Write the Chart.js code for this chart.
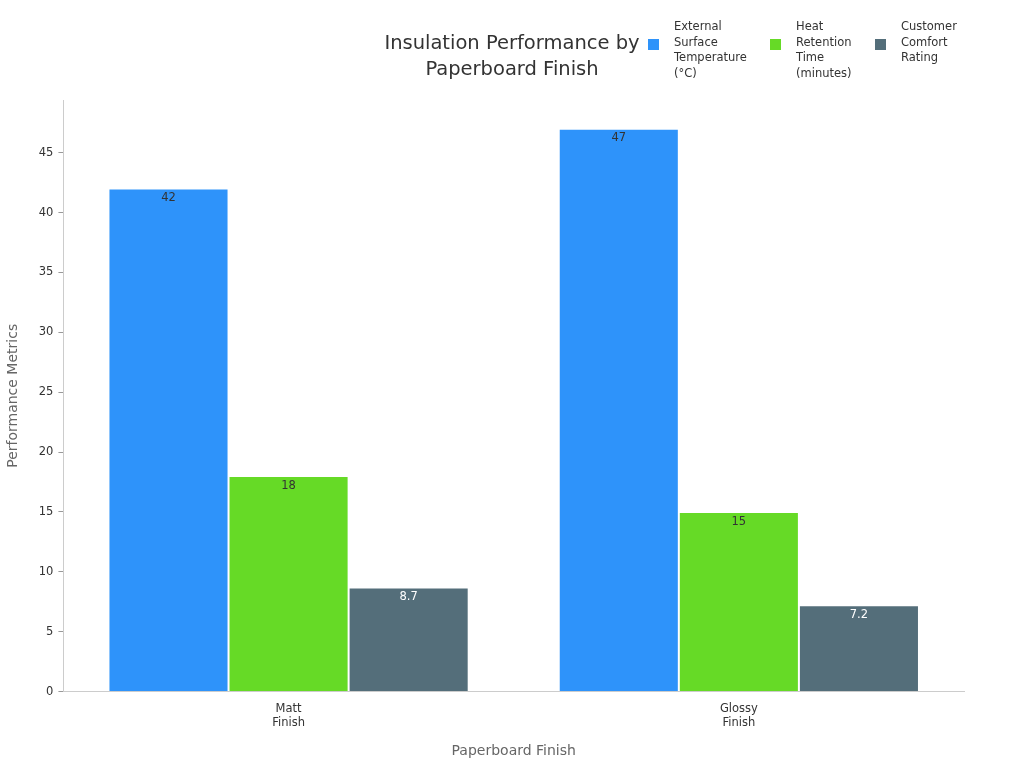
<!DOCTYPE html>
<html><head><meta charset="utf-8">
<script src="https://cdn.jsdelivr.net/npm/chart.js@4"></script>
<style>
body{margin:0;font-family:"DejaVu Sans",sans-serif;background:#fff}
#wrap{position:relative;width:1024px;height:768px}
#title{position:absolute;left:352px;width:320px;top:30px;text-align:center;font-size:19.5px;color:#333;line-height:26px}
#legend{position:absolute;left:648px;top:19px;font-size:11.5px;color:#333;line-height:15.5px}
.li{position:absolute;top:0;display:flex;align-items:flex-start}
.sw{width:11px;height:11px;margin:20px 15px 0 0;flex:none}
</style></head><body>
<div id="wrap">
<canvas id="c" width="1024" height="768"></canvas>
<div id="title">Insulation Performance by<br>Paperboard Finish</div>
<div id="legend"></div>
</div>
<script>
const categories = [['Matt', 'Finish'], ['Glossy', 'Finish']];
const seriesNames = ['External Surface Temperature (°C)', 'Heat Retention Time (minutes)', 'Customer Comfort Rating'];
const legendLines = [['External', 'Surface', 'Temperature', '(°C)'], ['Heat', 'Retention', 'Time', '(minutes)'], ['Customer', 'Comfort', 'Rating']];
const surfaceTemp = [42, 47];
const retentionTime = [18, 15];
const comfortRating = [8.7, 7.2];
const colors = ['#2E93FA', '#66DA26', '#546E7A'];
const labelColors = ['#333', '#333', '#fff'];
const legendX = [0, 122, 227];

const lg = document.getElementById('legend');
legendLines.forEach((l, i) => {
  lg.innerHTML += `<div class="li" style="left:${legendX[i]}px"><span class="sw" style="background:${colors[i]}"></span><span>${l.join('<br>')}</span></div>`;
});

const valueLabels = {
  id: 'valueLabels',
  afterDatasetsDraw(chart) {
    const ctx = chart.ctx;
    ctx.save();
    ctx.font = '11.5px "DejaVu Sans"';
    ctx.textAlign = 'center';
    ctx.textBaseline = 'top';
    chart.data.datasets.forEach((ds, i) => {
      chart.getDatasetMeta(i).data.forEach((bar, j) => {
        ctx.fillStyle = labelColors[i];
        ctx.fillText(ds.data[j], bar.x, bar.y + 4);
      });
    });
    ctx.restore();
  }
};

new Chart(document.getElementById('c'), {
  type: 'bar',
  data: {
    labels: categories,
    datasets: [surfaceTemp, retentionTime, comfortRating].map((d, i) => ({
      label: seriesNames[i], data: d, backgroundColor: colors[i],
      borderColor: 'rgba(255,255,255,0.6)', borderWidth: 1,
      barPercentage: 1, categoryPercentage: 0.8,
    })),
  },
  options: {
    responsive: false,
    animation: false,
    layout: { padding: { top: 100, right: 60, left: 1, bottom: 4 } },
    plugins: { legend: { display: false }, tooltip: { enabled: false } },
    scales: {
      x: {
        grid: { display: false },
        border: { color: '#ccc' },
        ticks: { color: '#333', font: { size: 11.5, family: 'DejaVu Sans' } },
        title: { display: true, text: 'Paperboard Finish', color: '#666', padding: { top: 10 }, font: { size: 14, family: 'DejaVu Sans' } },
      },
      y: {
        min: 0, max: 49.4,
        afterBuildTicks: s => { s.ticks = s.ticks.filter(t => t.value % 5 === 0); },
        grid: { drawOnChartArea: false, color: '#999', tickLength: 5 },
        border: { color: '#ccc' },
        ticks: { stepSize: 5, padding: 5, color: '#333', font: { size: 11.5, family: 'DejaVu Sans' } },
        title: { display: true, text: 'Performance Metrics', color: '#666', padding: { top: 4, bottom: 12 }, font: { size: 14, family: 'DejaVu Sans' } },
      },
    },
  },
  plugins: [valueLabels],
});
</script>
</body></html>
